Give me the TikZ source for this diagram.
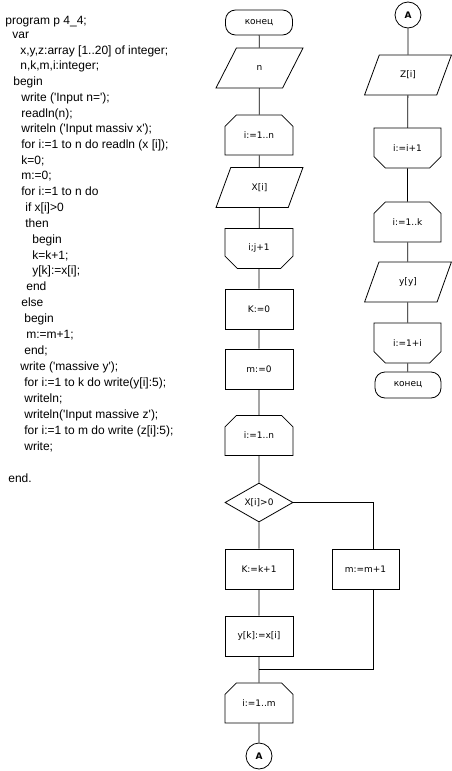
\documentclass[tikz,border=0pt]{standalone}
\usepackage{fontspec}
\setmainfont{DejaVu Sans}
\newfontfamily\codefont{Liberation Sans}
\usepackage{tikz}
\usetikzlibrary{shapes.geometric,shapes.misc,positioning}

\begin{document}
\begin{tikzpicture}[x=1pt,y=-1pt,line width=0.8pt,
  every node/.style={font=\fontsize{9}{11}\selectfont},
  block/.style={draw,rectangle,minimum width=68pt,minimum height=40pt,inner sep=0pt},
  io/.style={draw,trapezium,trapezium left angle=63.4,trapezium right angle=116.6,
    trapezium stretches=true,minimum width=87pt,minimum height=40pt,inner sep=0pt},
  loopbeg/.style={draw,chamfered rectangle,chamfered rectangle corners={north west,north east},
    chamfered rectangle xsep=8pt,chamfered rectangle ysep=8pt,minimum width=68pt,minimum height=40pt,inner sep=0pt},
  loopend/.style={loopbeg,chamfered rectangle corners={south west,south east}},
  term/.style={draw,rectangle,rounded corners=10pt,minimum width=67pt,minimum height=25pt,inner sep=0pt},
  cond/.style={draw,diamond,aspect=1.75,minimum width=68pt,minimum height=39pt,inner sep=0pt},
  conn/.style={draw,circle,minimum size=26pt,inner sep=0pt,font=\fontsize{9}{11}\selectfont\bfseries},
  code/.style={anchor=base west,inner sep=0pt,font=\codefont\fontsize{12}{14}\selectfont}]
  \useasboundingbox (0,0) rectangle (452,771);
  % Program text
  \node[code] (c1) at (5,24) {program p 4\_4;};
  \node[code] (c2) at (12,38) {var};
  \node[code] (c3) at (20,54) {x,y,z:array [1..20] of integer;};
  \node[code] (c4) at (20,69) {n,k,m,i:integer;};
  \node[code] (c5) at (13,85) {begin};
  \node[code] (c6) at (21,101) {write ('Input n=');};
  \node[code] (c7) at (21,117) {readln(n);};
  \node[code] (c8) at (21,132) {writeln ('Input massiv x');};
  \node[code] (c9) at (21,148) {for i:=1 to n do readln (x [i]);};
  \node[code] (c10) at (21,164) {k=0;};
  \node[code] (c11) at (21,179) {m:=0;};
  \node[code] (c12) at (21,195) {for i:=1 to n do};
  \node[code] (c13) at (25,211) {if x[i]>0};
  \node[code] (c14) at (25,227) {then};
  \node[code] (c15) at (32,243) {begin};
  \node[code] (c16) at (32,259) {k=k+1;};
  \node[code] (c17) at (32,274) {y[k]:=x[i];};
  \node[code] (c18) at (26,290) {end};
  \node[code] (c19) at (21,306) {else};
  \node[code] (c20) at (24,322) {begin};
  \node[code] (c21) at (26,338) {m:=m+1;};
  \node[code] (c22) at (24,354) {end;};
  \node[code] (c23) at (20,370) {write ('massive y');};
  \node[code] (c24) at (24,386) {for i:=1 to k do write(y[i]:5);};
  \node[code] (c25) at (24,402) {writeln;};
  \node[code] (c26) at (24,418) {writeln('Input massive z');};
  \node[code] (c27) at (24,434) {for i:=1 to m do write (z[i]:5);};
  \node[code] (c28) at (24,450) {write;};
  \node[code] (c29) at (8,482) {end.};
  % Main column
  \node[term] (end1) at (259,22.5) {конец};
  \node[io] (inn) at (259.5,68) {n};
  \node[loopbeg] (lp1) at (259,135) {i:=1..n};
  \node[io] (inx) at (259.5,187.5) {X[i]};
  \node[loopend] (lp1e) at (259,248.5) {i;j+1};
  \node[block] (k0) at (259,309) {K:=0};
  \node[block] (m0) at (259,369) {m:=0};
  \node[loopbeg] (lp2) at (259,435.5) {i:=1..n};
  \node[cond] (chk) at (259,502.5) {X[i]>0};
  \node[block] (kp1) at (259,569) {K:=k+1};
  \node[block,minimum width=67pt] (mp1) at (365.5,569) {m:=m+1};
  \node[block] (ykx) at (259,636) {y[k]:=x[i]};
  \node[loopbeg] (lp3) at (259,703) {i:=1..m};
  \node[conn] (a1) at (259,756) {A};
  \draw (end1)--(inn)--(lp1)--(inx)--(lp1e)--(k0)--(m0)--(lp2)--(chk)--(kp1)--(ykx);
  \coordinate (rt) at (373,502.5);
  \coordinate (jn) at (259,669);
  \coordinate (jr) at (373,669);
  \draw (chk.east)--(rt)--(rt |- mp1.north);
  \draw (rt |- mp1.south)--(jr)--(jn);
  \draw (ykx)--(jn)--(lp3)--(a1);
  % Second column
  \node[conn] (a2) at (408,15) {A};
  \node[io] (inz) at (408,75) {Z[i]};
  \node[loopend,minimum width=67pt] (lp4e) at (407.5,148) {i:=i+1};
  \node[loopbeg,minimum width=67pt] (lp5) at (407.5,222) {i:=1..k};
  \node[io] (iny) at (408,282) {y[y]};
  \node[loopend,minimum width=67pt] (lp5e) at (407.5,343) {i:=1+i};
  \node[term,minimum width=66pt,minimum height=26pt] (end2) at (408,385) {конец};
  \draw (a2)--(inz)--(lp4e)--(lp5)--(iny)--(lp5e)--(end2);
\end{tikzpicture}
\end{document}
